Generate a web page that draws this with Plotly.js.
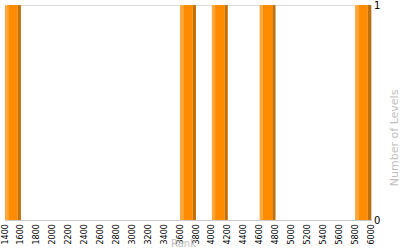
<!DOCTYPE html>
<html>
<head>
<meta charset="utf-8">
<script src="https://cdn.plot.ly/plotly-3.0.1.min.js"></script>
<style>html,body{margin:0;padding:0;background:#fff;}#chart{width:400px;height:250px;}</style>
</head>
<body>
<div id="chart"></div>
<script>
// Histogram bins (Rank) and counts (Number of Levels)
const binStart = [1400, 3600, 4000, 4600, 5800];
const binEnd   = [1600, 3800, 4200, 4800, 6000];
const counts   = [1, 1, 1, 1, 1];
const xTickVals = [1400,1600,1800,2000,2200,2400,2600,2800,3000,3200,3400,3600,3800,4000,4200,4400,4600,4800,5000,5200,5400,5600,5800,6000];
const xTickText = ["1400","1600","1800","2000","2200","2400","2600","2800","3000","3200","3400","3600","3800","4000","4200","4400","4600","4800","5000","5200","5400","5600","5800","6000"];
const yTickVals = [0, 1];
const yTickText = ["0", "1"];

// three-tone shading of each bar: light strip, main body, dark strip
const shades = [
  {color: '#FFA73A', from: 0.0, to: 0.2},
  {color: '#FF8C00', from: 0.2, to: 0.8},
  {color: '#C56E00', from: 0.8, to: 1.0}
];

const traces = shades.map(s => ({
  type: 'bar',
  x: binStart,
  y: counts,
  offset: binStart.map((b, i) => (binEnd[i] - b) * s.from),
  width: binStart.map((b, i) => (binEnd[i] - b) * (s.to - s.from)),
  marker: {color: s.color, line: {width: 0}},
  hoverinfo: 'skip',
  showlegend: false
}));

const layout = {
  width: 400, height: 250,
  margin: {l: 5, r: 29, t: 5, b: 30},
  paper_bgcolor: '#fff', plot_bgcolor: '#fff',
  barmode: 'overlay',
  font: {family: 'DejaVu Sans, Verdana, sans-serif', color: '#000'},
  xaxis: {
    range: [1400, 6000],
    tickvals: xTickVals, ticktext: xTickText,
    tickangle: -90,
    tickfont: {size: 8, color: '#000'},
    showgrid: false, zeroline: false,
    showline: true, linecolor: '#c8c8c8', linewidth: 1,
    ticks: '', fixedrange: true
  },
  yaxis: {
    side: 'right',
    range: [0, 1.0005],
    tickvals: yTickVals, ticktext: yTickText,
    tickfont: {size: 10, color: '#000'},
    ticklabeloverflow: 'allow',
    showgrid: false,
    zeroline: false,
    showline: true, linecolor: '#d0d0d0',
    ticks: '', fixedrange: true
  },
  shapes: [
    {type: 'line', xref: 'paper', yref: 'y', x0: 0, x1: 1, y0: 1, y1: 1,
     layer: 'below', line: {color: '#c8c8c8', width: 1}}
  ],
  annotations: [
    {text: 'Rank', xref: 'paper', yref: 'paper', x: 0.489, y: -0.11,
     xanchor: 'center', yanchor: 'middle', showarrow: false,
     font: {size: 10, color: '#c0c0c0'}},
    {text: 'Number of Levels', xref: 'paper', yref: 'paper', x: 1.063, y: 0.381,
     xanchor: 'center', yanchor: 'middle', textangle: -90, showarrow: false,
     font: {size: 11, color: '#c0c0c0'}}
  ]
};

Plotly.newPlot('chart', traces, layout, {staticPlot: true, displayModeBar: false});
</script>
</body>
</html>
